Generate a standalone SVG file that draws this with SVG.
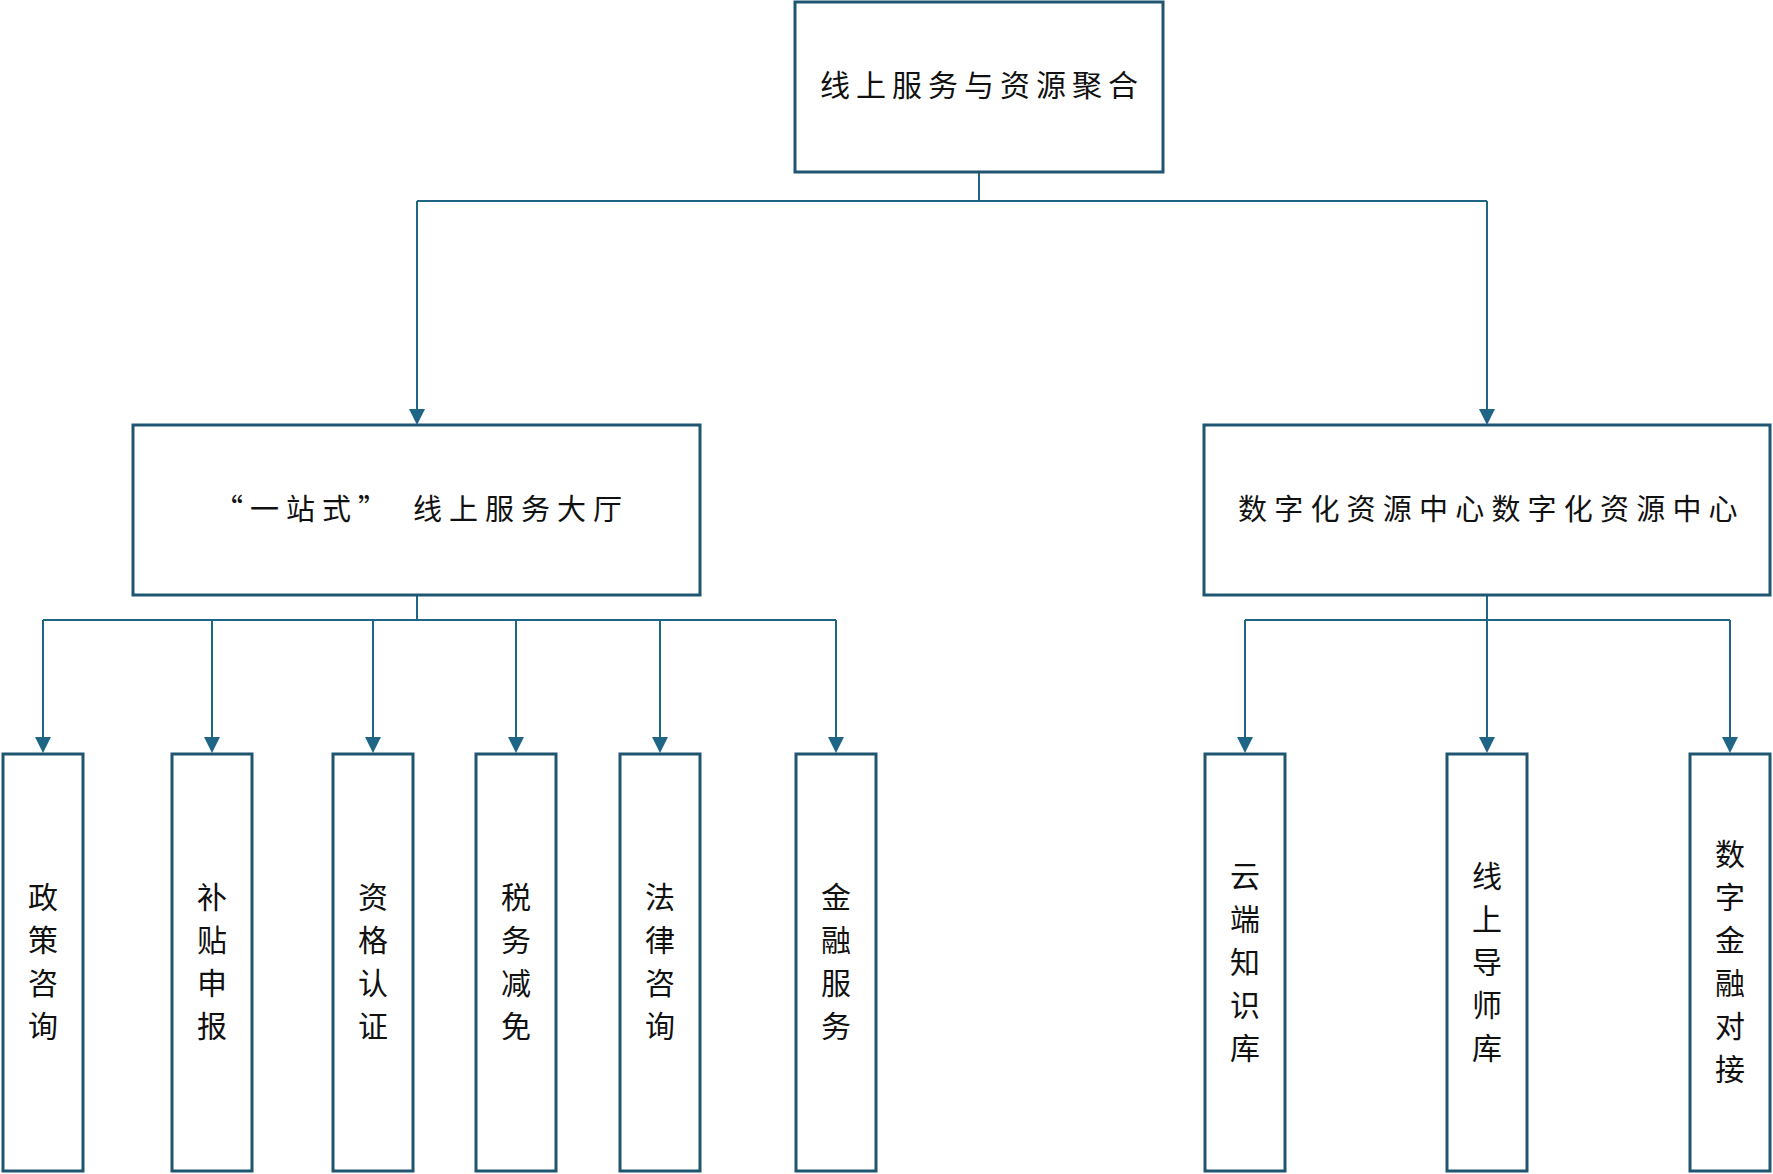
<svg xmlns="http://www.w3.org/2000/svg" width="1773" height="1174" viewBox="0 0 1773 1174">
<defs>
<style>
.box{fill:#ffffff;stroke:#1f5571;stroke-width:3}
.con{fill:none;stroke:#1e6586;stroke-width:2}
.t{font-family:"Noto Sans CJK SC","Noto Sans",sans-serif;fill:#111111;dominant-baseline:central}
.top{font-size:30px;letter-spacing:6px;text-anchor:middle}
.mid{font-size:29px;letter-spacing:7px}
.v{font-size:30px;text-anchor:middle}
</style>
<marker id="arr" viewBox="0 0 16 16" refX="14" refY="8" markerWidth="16" markerHeight="16" markerUnits="userSpaceOnUse" orient="auto">
<path d="M0,0 L16,8 L0,16 Z" fill="#1e6586"/>
</marker>
</defs>
<rect width="1773" height="1174" fill="#ffffff"/>

<g id="connectors">
<path class="con" d="M979,172 V201 M417,201 H1487"/>
<path class="con" d="M417,201 V423" marker-end="url(#arr)"/>
<path class="con" d="M1487,201 V423" marker-end="url(#arr)"/>
<path class="con" d="M417,595 V620 M43,620 H836"/>
<path class="con" d="M43,620 V751" marker-end="url(#arr)"/>
<path class="con" d="M212,620 V751" marker-end="url(#arr)"/>
<path class="con" d="M373,620 V751" marker-end="url(#arr)"/>
<path class="con" d="M516,620 V751" marker-end="url(#arr)"/>
<path class="con" d="M660,620 V751" marker-end="url(#arr)"/>
<path class="con" d="M836,620 V751" marker-end="url(#arr)"/>
<path class="con" d="M1245,620 H1730"/>
<path class="con" d="M1245,620 V751" marker-end="url(#arr)"/>
<path class="con" d="M1487,595 V751" marker-end="url(#arr)"/>
<path class="con" d="M1730,620 V751" marker-end="url(#arr)"/>
</g>

<g id="node-root">
<rect class="box" x="795" y="2" width="368" height="170"/>
<text class="t top" x="982" y="83">线上服务与资源聚合</text>
</g>

<g id="node-hall">
<rect class="box" x="133" y="425" width="567" height="170"/>
<text class="t mid" y="507"><tspan x="214">“一站式”</tspan><tspan x="413">线上服务大厅</tspan></text>
</g>

<g id="node-center">
<rect class="box" x="1204" y="425" width="566" height="170"/>
<text class="t mid" x="1238" y="507" style="letter-spacing:7.2px">数字化资源中心数字化资源中心</text>
</g>

<g id="node-policy">
<rect class="box" x="3" y="754" width="80" height="417"/>
<text class="t v"><tspan x="43" y="895">政</tspan><tspan x="43" y="938">策</tspan><tspan x="43" y="981">咨</tspan><tspan x="43" y="1024">询</tspan></text>
</g>
<g id="node-subsidy">
<rect class="box" x="172" y="754" width="80" height="417"/>
<text class="t v"><tspan x="212" y="895">补</tspan><tspan x="212" y="938">贴</tspan><tspan x="212" y="981">申</tspan><tspan x="212" y="1024">报</tspan></text>
</g>
<g id="node-qualification">
<rect class="box" x="333" y="754" width="80" height="417"/>
<text class="t v"><tspan x="373" y="895">资</tspan><tspan x="373" y="938">格</tspan><tspan x="373" y="981">认</tspan><tspan x="373" y="1024">证</tspan></text>
</g>
<g id="node-tax">
<rect class="box" x="476" y="754" width="80" height="417"/>
<text class="t v"><tspan x="516" y="895">税</tspan><tspan x="516" y="938">务</tspan><tspan x="516" y="981">减</tspan><tspan x="516" y="1024">免</tspan></text>
</g>
<g id="node-legal">
<rect class="box" x="620" y="754" width="80" height="417"/>
<text class="t v"><tspan x="660" y="895">法</tspan><tspan x="660" y="938">律</tspan><tspan x="660" y="981">咨</tspan><tspan x="660" y="1024">询</tspan></text>
</g>
<g id="node-finance">
<rect class="box" x="796" y="754" width="80" height="417"/>
<text class="t v"><tspan x="836" y="895">金</tspan><tspan x="836" y="938">融</tspan><tspan x="836" y="981">服</tspan><tspan x="836" y="1024">务</tspan></text>
</g>

<g id="node-cloud">
<rect class="box" x="1205" y="754" width="80" height="417"/>
<text class="t v"><tspan x="1245" y="874">云</tspan><tspan x="1245" y="917">端</tspan><tspan x="1245" y="960">知</tspan><tspan x="1245" y="1003">识</tspan><tspan x="1245" y="1046">库</tspan></text>
</g>
<g id="node-mentor">
<rect class="box" x="1447" y="754" width="80" height="417"/>
<text class="t v"><tspan x="1487" y="874">线</tspan><tspan x="1487" y="917">上</tspan><tspan x="1487" y="960">导</tspan><tspan x="1487" y="1003">师</tspan><tspan x="1487" y="1046">库</tspan></text>
</g>
<g id="node-digifin">
<rect class="box" x="1690" y="754" width="80" height="417"/>
<text class="t v"><tspan x="1730" y="852">数</tspan><tspan x="1730" y="895">字</tspan><tspan x="1730" y="938">金</tspan><tspan x="1730" y="981">融</tspan><tspan x="1730" y="1024">对</tspan><tspan x="1730" y="1067">接</tspan></text>
</g>
</svg>
